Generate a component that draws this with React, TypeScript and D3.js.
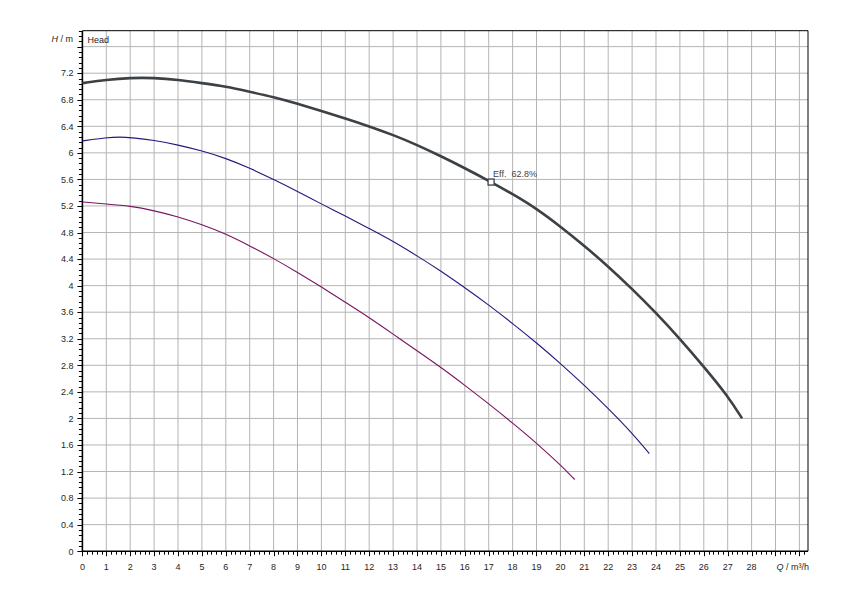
import React from "react";
import * as d3 from "d3";

const curve1Q = [0,1,2,3,4,5,6,7,8,9,10,11,12,13,14,15,16,17,18,19,20,21,22,23,24,25,26,27,27.6];
const curve1H = [7.05,7.10,7.13,7.13,7.10,7.05,7.00,6.92,6.84,6.74,6.63,6.52,6.40,6.27,6.12,5.95,5.77,5.58,5.38,5.16,4.89,4.60,4.29,3.95,3.59,3.20,2.78,2.34,2.00];

const curve2Q = [0,1,1.6,2,3,4,5,6,7,8,9,10,11,12,13,14,15,16,17,18,19,20,21,22,23,23.72];
const curve2H = [6.18,6.23,6.24,6.23,6.19,6.12,6.03,5.92,5.77,5.60,5.42,5.23,5.05,4.86,4.67,4.45,4.22,3.97,3.71,3.43,3.14,2.83,2.50,2.15,1.78,1.47];

const curve3Q = [0,1,2,3,4,5,6,7,8,9,10,11,12,13,14,15,16,17,18,19,20,20.6];
const curve3H = [5.26,5.23,5.20,5.13,5.04,4.92,4.78,4.60,4.41,4.20,3.98,3.75,3.52,3.27,3.02,2.77,2.50,2.22,1.93,1.63,1.30,1.08];

const effQ = 17.1;
const effH = 5.56;
const effLabel = "Eff.  62.8%";

const xTickLabels = d3.range(0, 29, 1);
const yTickLabels = d3.range(0, 7.21, 0.4);

const X_MAX = 30.36;
const Y_MAX = 7.84;

export default function App() {
  const left = 82.4, right = 808, top = 30.7, bottom = 551.2;
  const x = d3.scaleLinear().domain([0, X_MAX]).range([left, right]);
  const y = d3.scaleLinear().domain([0, Y_MAX]).range([bottom, top]);

  const line = d3
    .line<[number, number]>()
    .x((d) => x(d[0]))
    .y((d) => y(d[1]))
    .curve(d3.curveBasis);

  const series = [
    { q: curve1Q, h: curve1H, color: "#3c4146", width: 2.6 },
    { q: curve2Q, h: curve2H, color: "#2a1580", width: 1.1 },
    { q: curve3Q, h: curve3H, color: "#7a1462", width: 1.1 },
  ];

  const xGrid = d3.range(1, 30.5, 1);
  const yGrid = d3.range(0.4, 7.61, 0.4);
  const xMinor = d3.range(0, X_MAX, 0.2);
  const yMinor = d3.range(0, Y_MAX + 0.001, 0.08);

  const font = "'Liberation Sans', Arial, sans-serif";
  const textColor = "#262626";

  return (
    <svg
      width={850}
      height={600}
      style={{ position: "absolute", left: 0, top: 0, background: "#fff" }}
      fontFamily={font}
      fontSize={9}
    >
      <rect x={0} y={0} width={850} height={600} fill="#fff" />
      {/* grid */}
      <g stroke="#b4b4b4" strokeWidth={1}>
        {xGrid.map((v) => (
          <line key={"xg" + v} x1={x(v)} x2={x(v)} y1={top} y2={bottom} />
        ))}
        {yGrid.map((v) => (
          <line key={"yg" + v} x1={left} x2={right} y1={y(v)} y2={y(v)} />
        ))}
      </g>
      {/* frame */}
      <line x1={left} x2={right} y1={top} y2={top} stroke="#000" strokeWidth={1} />
      <line x1={right} x2={right} y1={top} y2={bottom} stroke="#000" strokeWidth={1} />
      {/* ticks */}
      <g stroke="#000" strokeWidth={1}>
        {yMinor.map((v, i) => {
          const major = i % 5 === 0;
          return (
            <line
              key={"ym" + i}
              x1={left - (major ? 5 : 3.5)}
              x2={left}
              y1={Math.round(y(v)) + 0.5}
              y2={Math.round(y(v)) + 0.5}
            />
          );
        })}
        {xMinor.map((v, i) => {
          const major = i % 5 === 0;
          return (
            <line
              key={"xm" + i}
              x1={Math.round(x(v)) + 0.5}
              x2={Math.round(x(v)) + 0.5}
              y1={bottom}
              y2={bottom + (major ? 5 : 3.5)}
            />
          );
        })}
      </g>
      {/* axes */}
      <line x1={left} x2={left} y1={top} y2={bottom} stroke="#000" strokeWidth={1.6} />
      <line x1={left} x2={right} y1={bottom} y2={bottom} stroke="#000" strokeWidth={1.6} />
      {/* tick labels */}
      <g fill={textColor}>
        {yTickLabels.map((v) => (
          <text key={"yl" + v} x={left - 9} y={y(v) + 3.3} textAnchor="end">
            {d3.format("~g")(+v.toFixed(1))}
          </text>
        ))}
        {xTickLabels.map((v) => (
          <text key={"xl" + v} x={x(v)} y={570} textAnchor="middle">
            {v}
          </text>
        ))}
        <text x={73} y={42} textAnchor="end">
          <tspan fontStyle="italic">H</tspan>
          <tspan> / m</tspan>
        </text>
        <text x={87.5} y={43.3}>Head</text>
        <text x={809} y={570} textAnchor="end">
          <tspan fontStyle="italic">Q</tspan>
          <tspan> / m³/h</tspan>
        </text>
      </g>
      {/* curves */}
      {series.map((s, i) => (
        <path
          key={"c" + i}
          d={line(s.q.map((q, j) => [q, s.h[j]] as [number, number])) || ""}
          fill="none"
          stroke={s.color}
          strokeWidth={s.width}
          strokeLinejoin="round"
        />
      ))}
      {/* efficiency marker */}
      <rect
        x={x(effQ) - 3}
        y={y(effH) - 3}
        width={6}
        height={6}
        fill="#fff"
        stroke="#3c4146"
        strokeWidth={1.3}
      />
      <text x={x(effQ) + 2} y={y(effH) - 5} fill="#444" style={{ whiteSpace: "pre" }}>
        {effLabel}
      </text>
    </svg>
  );
}
